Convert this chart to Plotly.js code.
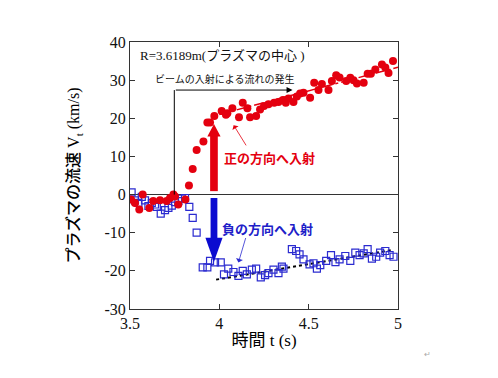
<!DOCTYPE html>
<html><head><meta charset="utf-8">
<script src="https://cdn.plot.ly/plotly-3.0.1.min.js"></script>
<style>body{margin:0;background:#fff}#c{width:498px;height:378px}</style>
</head><body><div id="c"></div>
<script>
const redT = [3.506,3.528,3.552,3.571,3.608,3.63,3.668,3.705,3.724,3.743,3.752,3.77,3.81,3.83,3.851,3.873,3.911,3.933,3.948,3.972,4.013,4.037,4.045,4.073,4.11,4.131,4.157,4.172,4.206,4.228,4.25,4.275,4.307,4.331,4.356,4.372,4.387,4.415,4.434,4.452,4.471,4.508,4.531,4.555,4.574,4.611,4.63,4.654,4.673,4.71,4.733,4.751,4.77,4.808,4.83,4.848,4.873,4.91,4.929,4.947,4.972];
const redV = [-1.3,-2.2,-3.9,0,-3.5,-1.7,-1.5,-1.7,-0.9,0,-0.5,-2.6,-1.3,2.4,6.7,11.7,13.9,18.9,18.9,20.6,21.9,20.9,21.3,22.6,20.3,24.1,22.6,20.3,20.6,22.3,23.2,23.7,24.1,24.3,24.8,24.1,25.2,24.3,25.7,26.5,26.7,25.4,29.3,27.4,29.0,27.4,29.8,31.3,30.7,29.8,30.6,30.0,29.1,29.3,31.7,31.7,32.8,34.1,33.3,31.9,35.0];
const blueT = [3.509,3.528,3.547,3.566,3.584,3.603,3.622,3.64,3.65,3.672,3.696,3.715,3.734,3.752,3.771,3.79,3.808,3.832,3.851,3.873,3.907,3.933,3.948,3.976,4.008,4.026,4.05,4.079,4.107,4.131,4.154,4.182,4.206,4.232,4.256,4.275,4.303,4.331,4.35,4.359,4.406,4.43,4.449,4.471,4.505,4.527,4.546,4.565,4.598,4.625,4.65,4.673,4.705,4.733,4.761,4.785,4.808,4.83,4.854,4.878,4.9,4.929,4.953,4.975];
const blueV = [0.6,-1.5,-2.2,-0.6,-1.5,-3.0,-2.2,-2.6,-3.2,-5.0,-4.1,-3.5,-2.9,-2.0,-1.7,-1.1,-0.9,-3.2,-6.1,-10.0,-19.1,-19.1,-17.4,-17.8,-17.8,-20.9,-19.4,-20.3,-21.3,-20.0,-20.9,-19.7,-19.4,-21.7,-21.1,-20.6,-19.7,-20.6,-18.9,-19.4,-14.3,-14.8,-15.7,-17.0,-18.3,-18.0,-19.4,-18.5,-17.4,-15.9,-17.7,-17.0,-16.1,-17.4,-15.2,-15.9,-15.4,-14.3,-16.8,-16.3,-15.2,-14.8,-15.9,-16.3];
const redFitT = [4.0, 5.0];
const redFitV = [21.0, 33.4];
const blueFitT = [3.982, 4.975];
const blueFitV = [-22.3, -14.5];
const xTicks = [3.5, 4, 4.5, 5];
const yTicks = [-30, -20, -10, 0, 10, 20, 30, 40];

const RED = '#e4000f', BLUE = '#2b2bd0', DBLUE = '#0a0ad0';
const serif = 'Liberation Serif, "Noto Sans CJK JP", serif';
const jp = '"Noto Sans CJK JP", sans-serif';

const traces = [
  {x: redFitT, y: redFitV, mode: 'lines', line: {color: RED, width: 1.5, dash: 'dashdot'}, hoverinfo: 'skip'},
  {x: blueFitT, y: blueFitV, mode: 'lines', line: {color: '#000', width: 2, dash: 'dot'}, hoverinfo: 'skip'},
  {x: blueT, y: blueV, mode: 'markers', marker: {symbol: 'square-open', size: 7, color: BLUE, line: {width: 1.2}}},
  {x: redT, y: redV, mode: 'markers', marker: {symbol: 'circle', size: 8, color: RED}}
];

const ax = {showline: true, mirror: 'ticks', linecolor: '#333', linewidth: 1, ticks: 'inside', ticklen: 5, tickcolor: '#333', showgrid: false, tickfont: {family: serif, size: 16, color: '#111'}};

const layout = {
  width: 498, height: 378,
  margin: {l: 130, r: 100, t: 42, b: 69},
  paper_bgcolor: '#fff', plot_bgcolor: '#fff',
  showlegend: false,
  xaxis: Object.assign({}, ax, {range: [3.5, 5], tickvals: xTicks, ticktext: xTicks.map(String), zeroline: false,
    title: {text: '時間 t (s)', font: {family: serif, size: 17, color: '#000'}, standoff: 2}}),
  yaxis: Object.assign({}, ax, {range: [-30, 40], tickvals: yTicks, ticktext: yTicks.map(String), zeroline: true, zerolinecolor: '#333', zerolinewidth: 1,
    title: {text: 'プラズマの流速 V<sub>t</sub> (km/s)', font: {family: serif, size: 16, color: '#000', weight: 500}, standoff: 20}}),
  shapes: [
    {type: 'line', xref: 'x', yref: 'y', x0: 3.748, x1: 3.748, y0: 0, y1: 27.4, line: {color: '#000', width: 1}},
    {type: 'rect', xref: 'x', yref: 'y', x0: 3.9485, x1: 3.9915, y0: 0.9, y1: 15.4, fillcolor: RED, line: {width: 0}},
    {type: 'path', xref: 'x', yref: 'y', path: 'M 3.933 15.2 L 4.007 15.2 L 3.97 18.5 Z', fillcolor: RED, line: {width: 0}},
    {type: 'rect', xref: 'x', yref: 'y', x0: 3.951, x1: 3.989, y0: -0.9, y1: -11.5, fillcolor: DBLUE, line: {width: 0}},
    {type: 'path', xref: 'x', yref: 'y', path: 'M 3.922 -11.3 L 4.018 -11.3 L 3.97 -17.6 Z', fillcolor: DBLUE, line: {width: 0}}
  ],
  annotations: [
    {xref: 'paper', yref: 'paper', x: 0.03, y: 0.951, xanchor: 'left', yanchor: 'middle', showarrow: false,
      text: 'R=3.6189m(プラズマの中心 )', font: {family: serif, size: 13, color: '#111'}},
    {xref: 'paper', yref: 'paper', x: 0.086, y: 0.865, xanchor: 'left', yanchor: 'middle', showarrow: false,
      text: 'ビームの入射による流れの発生', font: {family: jp, size: 10, color: '#111'}},
    {xref: 'x', yref: 'y', x: 4.41, y: 27.4, ax: 3.748, ay: 27.4, axref: 'x', ayref: 'y', text: '', showarrow: true,
      arrowhead: 2, arrowsize: 1.2, arrowwidth: 1, arrowcolor: '#000'},
    {xref: 'x', yref: 'y', x: 4.08, y: 18.2, ax: 4.155, ay: 12.5, axref: 'x', ayref: 'y', text: '', showarrow: true,
      arrowhead: 1, arrowsize: 1.5, arrowwidth: 0.8, arrowcolor: RED},
    {xref: 'x', yref: 'y', x: 4.107, y: -17.8, ax: 4.15, ay: -11.0, axref: 'x', ayref: 'y', text: '', showarrow: true,
      arrowhead: 1, arrowsize: 1.5, arrowwidth: 0.8, arrowcolor: BLUE},
    {xref: 'paper', yref: 'paper', x: (222 - 130) / 268, y: 1 - (157 - 42) / 267, xanchor: 'left', yanchor: 'middle', showarrow: false,
      text: '<b>正の方向へ入射</b>', font: {family: jp, size: 13, color: RED}},
    {xref: 'paper', yref: 'paper', x: (220 - 130) / 268, y: 1 - (228 - 42) / 267, xanchor: 'left', yanchor: 'middle', showarrow: false,
      text: '<b>負の方向へ入射</b>', font: {family: jp, size: 13, color: '#2020c8'}},
    {xref: 'paper', yref: 'paper', x: (427 - 130) / 268, y: 1 - (353 - 42) / 267, xanchor: 'center', yanchor: 'middle', showarrow: false,
      text: '↵', font: {family: jp, size: 8, color: '#aaa'}}
  ]
};

Plotly.newPlot('c', traces, layout, {displayModeBar: false, staticPlot: true});
</script>
</body></html>
